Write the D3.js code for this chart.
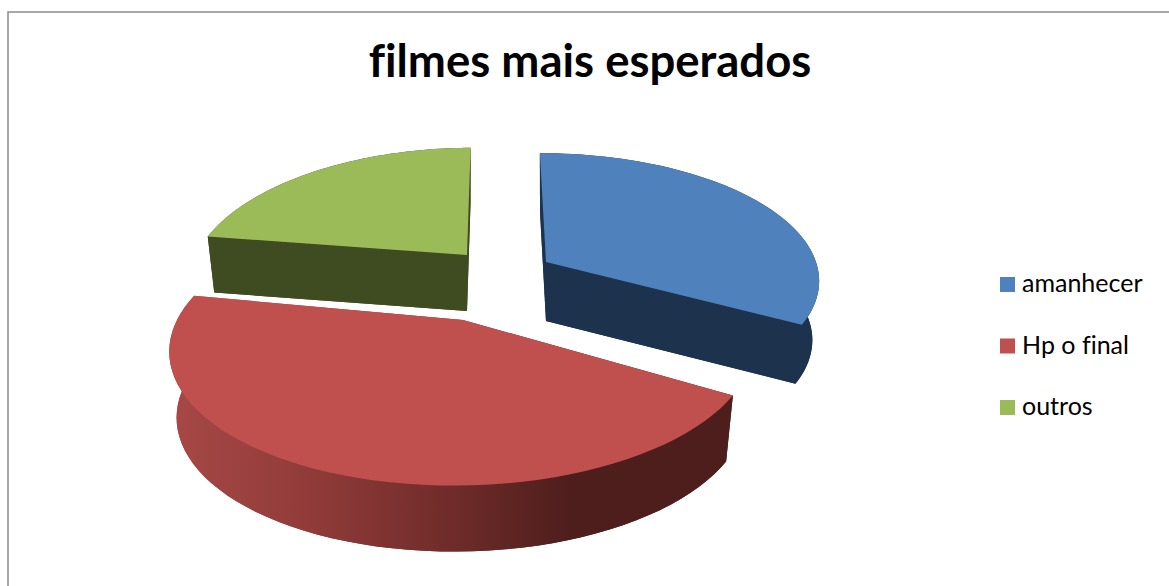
<!DOCTYPE html>
<html>
<head>
<meta charset="utf-8">
<script src="https://cdn.jsdelivr.net/npm/d3@7"></script>
<style>
  html, body { margin: 0; padding: 0; background: #fff; overflow: hidden; }
  text { font-family: Lato, "Open Sans", sans-serif; fill: #000; font-variant-ligatures: none; }
</style>
</head>
<body>
<div id="chart"></div>
<script>
// Chart data
const titleText = "filmes mais esperados";
const categories = ["amanhecer", "Hp o final", "outros"];
const values = [33, 44.5, 22.5];
const topColors = ["#4f81bd", "#c0504d", "#9bbb59"];
const sideColors = ["#1d324d", "url(#redWall)", "#3f4b21"];

const svgWidth = 1169, svgHeight = 586;

// Each exploded slice has its own apex, radii, perspective and small view turn on screen
const sliceLayout = [
  { apexX: 546, apexY: 262, rx: 270, ry: 123, depth: 59, turn: -0.2, tilt: 0.13 },
  { apexX: 463, apexY: 320, rx: 286, ry: 132, depth: 66, turn: 2, tilt: 0.203 },
  { apexX: 467, apexY: 255, rx: 271, ry: 129, depth: 56, turn: -0.5, tilt: 0.203 }
];
const vanishX = 500;       // slices lean towards this x
const bottomScale = 0.975; // the underside looks a little narrower

const svg = d3.select("#chart")
  .append("svg")
  .attr("width", svgWidth)
  .attr("height", svgHeight);

// Gradient on the round wall of the big slice
const grad = svg.append("defs").append("linearGradient")
  .attr("id", "redWall")
  .attr("gradientUnits", "userSpaceOnUse")
  .attr("x1", 175).attr("x2", 725).attr("y1", 0).attr("y2", 0);
[[0, "#a64846"], [0.25, "#903b39"], [0.5, "#6f2c2a"], [0.72, "#4e1e1c"], [1, "#4e1e1c"]]
  .forEach(s => grad.append("stop").attr("offset", s[0]).attr("stop-color", s[1]));

// Chart frame, only top and left show in the picture
svg.append("path")
  .attr("d", "M8,586V12H1169")
  .attr("fill", "none")
  .attr("stroke", "#8c8c8c")
  .attr("stroke-width", 1.5);

// Title
svg.append("text")
  .attr("x", 590)
  .attr("y", 77)
  .attr("text-anchor", "middle")
  .style("font-size", "45.5px")
  .style("font-weight", "bold")
  .text(titleText);

const pie = d3.pie().sort(null);
const arcs = pie(values);

// Perspective projection of a point on the pie plane
function project(angle, radius, s, lower) {
  const turned = angle + s.turn * Math.PI / 180;
  const u = Math.sin(turned) * radius;
  const v = -Math.cos(turned) * radius;
  const w = 1 / (1 - s.tilt * v);
  const scale = lower ? bottomScale : 1;
  const x = s.rx * u * w + (s.apexX - vanishX) * (w - 1);
  const y = s.ry * v * w;
  return [s.apexX + x * scale, s.apexY + (lower ? s.depth : 0) + y];
}

const line = d3.line();

function rimPoints(d, s, lower) {
  return d3.range(0, 61).map(i =>
    project(d.startAngle + (d.endAngle - d.startAngle) * i / 60, 1, s, lower));
}

// Far slices first so the big one sits on top
[2, 0, 1].forEach(i => {
  const d = arcs[i], s = sliceLayout[i];
  const topRim = rimPoints(d, s, false);
  const lowRim = rimPoints(d, s, true);
  const apexTop = project(0, 0, s, false);
  const apexLow = project(0, 0, s, true);
  const g = svg.append("g");

  // Underside and walls in the side colour
  g.append("path")
    .attr("d", line([apexLow, ...lowRim]) + "Z")
    .attr("fill", sideColors[i]);
  g.append("path")
    .attr("d", line([...topRim, ...lowRim.slice().reverse()]) + "Z")
    .attr("fill", sideColors[i]);
  [0, 60].forEach(k => {
    g.append("path")
      .attr("d", line([apexTop, topRim[k], lowRim[k], apexLow]) + "Z")
      .attr("fill", sideColors[i]);
  });

  // Top face
  g.append("path")
    .attr("d", line([apexTop, ...topRim]) + "Z")
    .attr("fill", topColors[i]);
});

// Legend
const legendY = d3.scalePoint()
  .domain(categories)
  .range([285, 408]);

const legend = svg.selectAll(".legend")
  .data(categories)
  .enter()
  .append("g")
  .attr("class", "legend")
  .attr("transform", d => "translate(1000," + legendY(d) + ")");

legend.append("rect")
  .attr("y", -8)
  .attr("width", 15)
  .attr("height", 15)
  .attr("fill", (d, i) => topColors[i]);

legend.append("text")
  .attr("x", 22)
  .attr("y", 7)
  .style("font-size", "25px")
  .text(d => d);
</script>
</body>
</html>
